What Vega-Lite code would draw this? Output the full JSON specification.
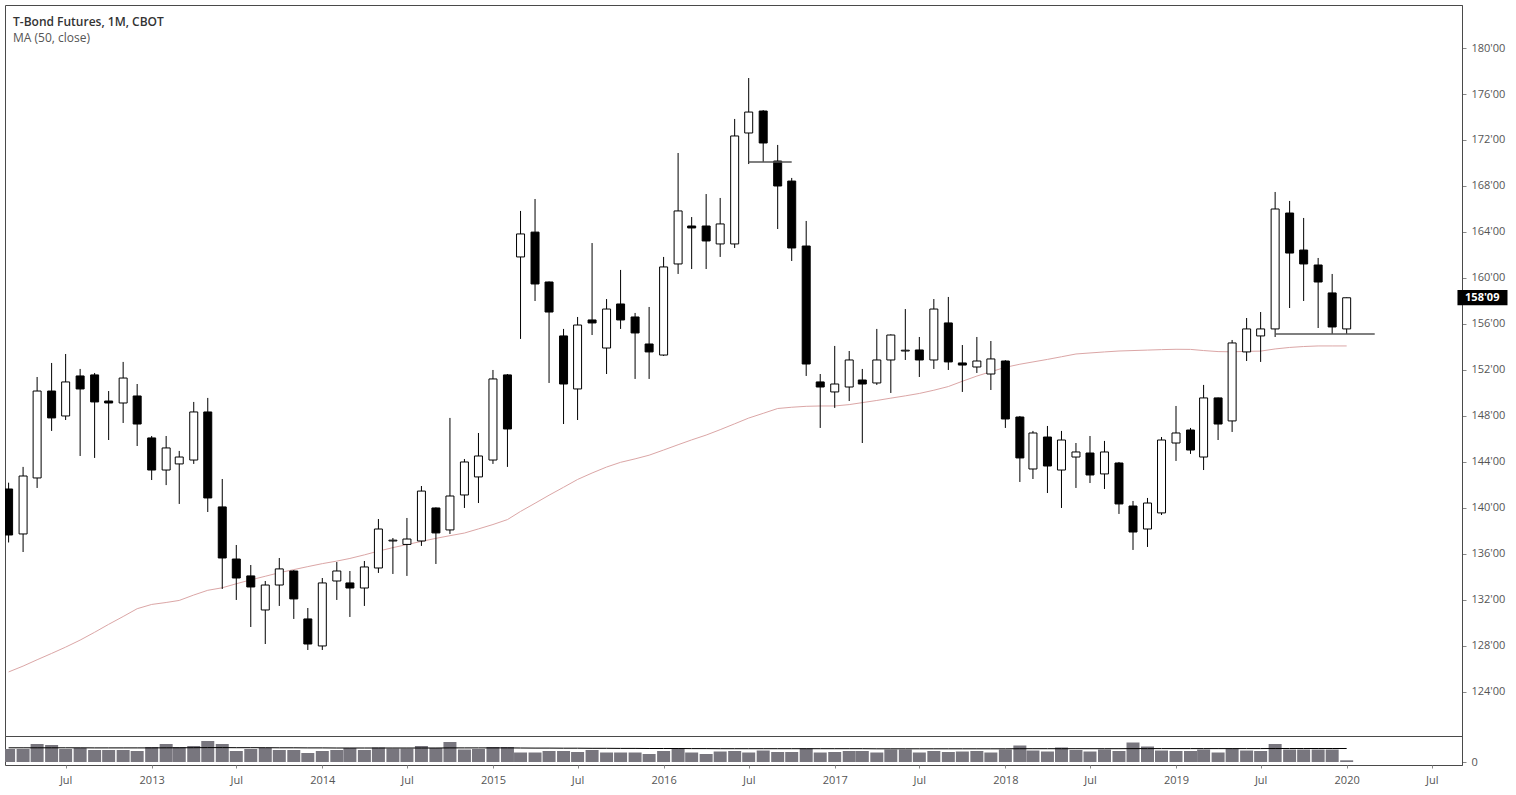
{
  "$schema": "https://vega.github.io/schema/vega-lite/v6.json",
  "padding": {"left": 4, "top": 4, "right": 0, "bottom": 0},
  "background": "white",
  "spacing": 0,
  "bounds": "flush",
  "config": {
    "view": {"stroke": "#4a4a4a", "strokeWidth": 1},
    "font": "Open Sans",
    "axis": {"labelFont": "Open Sans", "labelFontSize": 11, "labelColor": "#555555", "tickColor": "#888888", "grid": false, "domainColor": "#4a4a4a"}
  },
  "datasets": {
    "bars": [
      {"d": "2012-03-01", "o": 141.65, "h": 142.2, "l": 137.0, "c": 137.65, "v": 13, "ma": 125.74, "vma": 14.2},
      {"d": "2012-04-01", "o": 137.74, "h": 143.57, "l": 136.17, "c": 142.78, "v": 13, "ma": 126.25, "vma": 14.2},
      {"d": "2012-05-01", "o": 142.61, "h": 151.39, "l": 141.74, "c": 150.17, "v": 18, "ma": 126.8, "vma": 14.2},
      {"d": "2012-06-01", "o": 150.17, "h": 152.61, "l": 146.7, "c": 147.83, "v": 17, "ma": 127.35, "vma": 14.2},
      {"d": "2012-07-01", "o": 148.0, "h": 153.39, "l": 147.65, "c": 150.96, "v": 13, "ma": 127.9, "vma": 14.2},
      {"d": "2012-08-01", "o": 151.48, "h": 152.09, "l": 144.52, "c": 150.35, "v": 14, "ma": 128.51, "vma": 14.2},
      {"d": "2012-09-01", "o": 151.57, "h": 151.74, "l": 144.35, "c": 149.22, "v": 12, "ma": 129.19, "vma": 14.1},
      {"d": "2012-10-01", "o": 149.3, "h": 150.17, "l": 145.91, "c": 149.13, "v": 12, "ma": 129.88, "vma": 14.1},
      {"d": "2012-11-01", "o": 149.13, "h": 152.7, "l": 147.39, "c": 151.3, "v": 12, "ma": 130.56, "vma": 14.1},
      {"d": "2012-12-01", "o": 149.74, "h": 150.78, "l": 145.39, "c": 147.3, "v": 11, "ma": 131.24, "vma": 14.1},
      {"d": "2013-01-01", "o": 146.09, "h": 146.26, "l": 142.43, "c": 143.3, "v": 15, "ma": 131.61, "vma": 14.1},
      {"d": "2013-02-01", "o": 143.3, "h": 146.26, "l": 141.99, "c": 145.22, "v": 18, "ma": 131.78, "vma": 14.2},
      {"d": "2013-03-01", "o": 143.83, "h": 144.96, "l": 140.35, "c": 144.43, "v": 15, "ma": 131.96, "vma": 14.2},
      {"d": "2013-04-01", "o": 144.17, "h": 149.22, "l": 143.83, "c": 148.35, "v": 16, "ma": 132.43, "vma": 14.3},
      {"d": "2013-05-01", "o": 148.35, "h": 149.57, "l": 139.65, "c": 140.87, "v": 21, "ma": 132.84, "vma": 14.4},
      {"d": "2013-06-01", "o": 140.09, "h": 142.52, "l": 132.96, "c": 135.65, "v": 18, "ma": 133.06, "vma": 14.4},
      {"d": "2013-07-01", "o": 135.56, "h": 136.78, "l": 132.0, "c": 133.91, "v": 11, "ma": 133.41, "vma": 14.3},
      {"d": "2013-08-01", "o": 134.09, "h": 135.04, "l": 129.65, "c": 133.13, "v": 13, "ma": 133.75, "vma": 14.3},
      {"d": "2013-09-01", "o": 131.13, "h": 133.65, "l": 128.17, "c": 133.3, "v": 14, "ma": 134.06, "vma": 14.3},
      {"d": "2013-10-01", "o": 133.3, "h": 135.65, "l": 131.48, "c": 134.7, "v": 12, "ma": 134.37, "vma": 14.2},
      {"d": "2013-11-01", "o": 134.52, "h": 134.6, "l": 130.35, "c": 132.09, "v": 12, "ma": 134.64, "vma": 14.2},
      {"d": "2013-12-01", "o": 130.35, "h": 131.3, "l": 127.65, "c": 128.17, "v": 9, "ma": 134.9, "vma": 14.1},
      {"d": "2014-01-01", "o": 128.0, "h": 133.91, "l": 127.65, "c": 133.48, "v": 11, "ma": 135.16, "vma": 14.1},
      {"d": "2014-02-01", "o": 133.65, "h": 135.3, "l": 132.0, "c": 134.52, "v": 12, "ma": 135.38, "vma": 14.0},
      {"d": "2014-03-01", "o": 133.48, "h": 134.52, "l": 130.52, "c": 133.04, "v": 14, "ma": 135.61, "vma": 14.0},
      {"d": "2014-04-01", "o": 133.04, "h": 135.39, "l": 131.48, "c": 134.87, "v": 12, "ma": 135.92, "vma": 14.0},
      {"d": "2014-05-01", "o": 134.78, "h": 139.04, "l": 134.35, "c": 138.17, "v": 14.5, "ma": 136.25, "vma": 14.0},
      {"d": "2014-06-01", "o": 137.13, "h": 137.39, "l": 134.26, "c": 137.2, "v": 13.5, "ma": 136.55, "vma": 14.0},
      {"d": "2014-07-01", "o": 136.83, "h": 139.13, "l": 134.09, "c": 137.3, "v": 13.5, "ma": 136.82, "vma": 14.0},
      {"d": "2014-08-01", "o": 137.13, "h": 141.91, "l": 136.7, "c": 141.47, "v": 16, "ma": 137.09, "vma": 14.0},
      {"d": "2014-09-01", "o": 140.0, "h": 140.05, "l": 135.13, "c": 137.83, "v": 14, "ma": 137.36, "vma": 14.0},
      {"d": "2014-10-01", "o": 138.09, "h": 147.83, "l": 137.74, "c": 141.04, "v": 20, "ma": 137.59, "vma": 14.1},
      {"d": "2014-11-01", "o": 141.13, "h": 144.26, "l": 140.0, "c": 144.0, "v": 12.5, "ma": 137.82, "vma": 14.1},
      {"d": "2014-12-01", "o": 142.7, "h": 146.52, "l": 140.43, "c": 144.52, "v": 13, "ma": 138.18, "vma": 14.1},
      {"d": "2015-01-01", "o": 144.17, "h": 152.0, "l": 143.83, "c": 151.22, "v": 15, "ma": 138.56, "vma": 14.1},
      {"d": "2015-02-01", "o": 151.57, "h": 151.65, "l": 143.57, "c": 146.87, "v": 15, "ma": 138.99, "vma": 14.1},
      {"d": "2015-03-01", "o": 161.83, "h": 165.83, "l": 154.7, "c": 163.83, "v": 9.5, "ma": 139.7, "vma": 14.0},
      {"d": "2015-04-01", "o": 163.99, "h": 166.87, "l": 158.0, "c": 159.48, "v": 9.5, "ma": 140.41, "vma": 13.9},
      {"d": "2015-05-01", "o": 159.65, "h": 159.7, "l": 150.87, "c": 157.04, "v": 11, "ma": 141.11, "vma": 13.9},
      {"d": "2015-06-01", "o": 154.96, "h": 155.57, "l": 147.3, "c": 150.78, "v": 11, "ma": 141.8, "vma": 13.8},
      {"d": "2015-07-01", "o": 150.35, "h": 156.61, "l": 147.65, "c": 155.91, "v": 10, "ma": 142.48, "vma": 13.8},
      {"d": "2015-08-01", "o": 156.35, "h": 163.04, "l": 155.04, "c": 156.09, "v": 12, "ma": 143.04, "vma": 13.7},
      {"d": "2015-09-01", "o": 153.91, "h": 158.17, "l": 151.65, "c": 157.3, "v": 9.5, "ma": 143.56, "vma": 13.7},
      {"d": "2015-10-01", "o": 157.74, "h": 160.7, "l": 155.57, "c": 156.35, "v": 9.5, "ma": 143.97, "vma": 13.6},
      {"d": "2015-11-01", "o": 156.61, "h": 156.96, "l": 151.22, "c": 155.22, "v": 9.5, "ma": 144.27, "vma": 13.6},
      {"d": "2015-12-01", "o": 154.26, "h": 157.48, "l": 151.22, "c": 153.57, "v": 8, "ma": 144.59, "vma": 13.5},
      {"d": "2016-01-01", "o": 153.3, "h": 161.83, "l": 153.22, "c": 160.96, "v": 11, "ma": 145.04, "vma": 13.5},
      {"d": "2016-02-01", "o": 161.22, "h": 170.87, "l": 160.35, "c": 165.83, "v": 13.5, "ma": 145.5, "vma": 13.5},
      {"d": "2016-03-01", "o": 164.52, "h": 165.3, "l": 160.78, "c": 164.35, "v": 9.5, "ma": 145.92, "vma": 13.4},
      {"d": "2016-04-01", "o": 164.52, "h": 167.3, "l": 160.78, "c": 163.22, "v": 8, "ma": 146.34, "vma": 13.4},
      {"d": "2016-05-01", "o": 162.96, "h": 166.96, "l": 161.83, "c": 164.7, "v": 10.5, "ma": 146.81, "vma": 13.3},
      {"d": "2016-06-01", "o": 162.96, "h": 173.83, "l": 162.61, "c": 172.35, "v": 11, "ma": 147.32, "vma": 13.3},
      {"d": "2016-07-01", "o": 172.61, "h": 177.39, "l": 169.91, "c": 174.43, "v": 9.5, "ma": 147.82, "vma": 13.3},
      {"d": "2016-08-01", "o": 174.52, "h": 174.6, "l": 170.09, "c": 171.74, "v": 11.5, "ma": 148.23, "vma": 13.3},
      {"d": "2016-09-01", "o": 170.17, "h": 171.57, "l": 164.26, "c": 168.0, "v": 10, "ma": 148.65, "vma": 13.3},
      {"d": "2016-10-01", "o": 168.43, "h": 168.7, "l": 161.48, "c": 162.61, "v": 10, "ma": 148.76, "vma": 13.3},
      {"d": "2016-11-01", "o": 162.78, "h": 164.96, "l": 151.48, "c": 152.52, "v": 13.5, "ma": 148.84, "vma": 13.3},
      {"d": "2016-12-01", "o": 150.96, "h": 151.65, "l": 146.96, "c": 150.52, "v": 9.5, "ma": 148.87, "vma": 13.3},
      {"d": "2017-01-01", "o": 150.09, "h": 154.09, "l": 148.7, "c": 150.78, "v": 10, "ma": 148.87, "vma": 13.3},
      {"d": "2017-02-01", "o": 150.52, "h": 153.65, "l": 149.3, "c": 152.87, "v": 11, "ma": 148.99, "vma": 13.3},
      {"d": "2017-03-01", "o": 151.13, "h": 152.09, "l": 145.65, "c": 150.78, "v": 11, "ma": 149.16, "vma": 13.3},
      {"d": "2017-04-01", "o": 150.87, "h": 155.57, "l": 150.7, "c": 152.87, "v": 9.5, "ma": 149.35, "vma": 13.2},
      {"d": "2017-05-01", "o": 152.87, "h": 155.1, "l": 150.0, "c": 155.04, "v": 12.5, "ma": 149.55, "vma": 13.2},
      {"d": "2017-06-01", "o": 153.65, "h": 157.3, "l": 152.87, "c": 153.72, "v": 12.5, "ma": 149.75, "vma": 13.2},
      {"d": "2017-07-01", "o": 153.74, "h": 154.87, "l": 151.39, "c": 152.87, "v": 9.5, "ma": 149.96, "vma": 13.2},
      {"d": "2017-08-01", "o": 152.87, "h": 158.17, "l": 152.09, "c": 157.3, "v": 11, "ma": 150.24, "vma": 13.2},
      {"d": "2017-09-01", "o": 156.09, "h": 158.35, "l": 152.0, "c": 152.7, "v": 10, "ma": 150.56, "vma": 13.2},
      {"d": "2017-10-01", "o": 152.61, "h": 154.17, "l": 150.09, "c": 152.43, "v": 10.5, "ma": 151.02, "vma": 13.2},
      {"d": "2017-11-01", "o": 152.26, "h": 154.87, "l": 151.74, "c": 152.78, "v": 11, "ma": 151.47, "vma": 13.2},
      {"d": "2017-12-01", "o": 151.65, "h": 154.52, "l": 150.26, "c": 152.96, "v": 9.5, "ma": 151.85, "vma": 13.2},
      {"d": "2018-01-01", "o": 152.78, "h": 152.85, "l": 146.96, "c": 147.74, "v": 12.5, "ma": 152.23, "vma": 13.2},
      {"d": "2018-02-01", "o": 147.91, "h": 148.0, "l": 142.26, "c": 144.35, "v": 16.5, "ma": 152.5, "vma": 13.3},
      {"d": "2018-03-01", "o": 143.39, "h": 146.7, "l": 142.52, "c": 146.52, "v": 11.5, "ma": 152.7, "vma": 13.3},
      {"d": "2018-04-01", "o": 146.17, "h": 147.13, "l": 141.3, "c": 143.65, "v": 10.5, "ma": 152.92, "vma": 13.3},
      {"d": "2018-05-01", "o": 143.3, "h": 146.7, "l": 140.0, "c": 145.91, "v": 14.5, "ma": 153.15, "vma": 13.3},
      {"d": "2018-06-01", "o": 144.43, "h": 145.65, "l": 141.74, "c": 144.87, "v": 12, "ma": 153.39, "vma": 13.3},
      {"d": "2018-07-01", "o": 144.78, "h": 146.26, "l": 142.17, "c": 142.87, "v": 10.5, "ma": 153.48, "vma": 13.3},
      {"d": "2018-08-01", "o": 142.96, "h": 145.83, "l": 141.65, "c": 144.87, "v": 12.5, "ma": 153.57, "vma": 13.3},
      {"d": "2018-09-01", "o": 143.91, "h": 144.0, "l": 139.48, "c": 140.35, "v": 11, "ma": 153.65, "vma": 13.3},
      {"d": "2018-10-01", "o": 140.17, "h": 140.61, "l": 136.35, "c": 137.91, "v": 19.5, "ma": 153.69, "vma": 13.4},
      {"d": "2018-11-01", "o": 138.17, "h": 140.87, "l": 136.61, "c": 140.43, "v": 15.5, "ma": 153.73, "vma": 13.4},
      {"d": "2018-12-01", "o": 139.57, "h": 146.17, "l": 139.39, "c": 145.91, "v": 11.5, "ma": 153.77, "vma": 13.4},
      {"d": "2019-01-01", "o": 145.65, "h": 148.87, "l": 144.09, "c": 146.52, "v": 11, "ma": 153.8, "vma": 13.4},
      {"d": "2019-02-01", "o": 146.78, "h": 146.96, "l": 144.7, "c": 145.04, "v": 11, "ma": 153.79, "vma": 13.4},
      {"d": "2019-03-01", "o": 144.43, "h": 150.7, "l": 143.3, "c": 149.57, "v": 12.5, "ma": 153.69, "vma": 13.4},
      {"d": "2019-04-01", "o": 149.57, "h": 149.6, "l": 145.91, "c": 147.3, "v": 9.5, "ma": 153.6, "vma": 13.4},
      {"d": "2019-05-01", "o": 147.57, "h": 154.61, "l": 146.61, "c": 154.35, "v": 13.5, "ma": 153.58, "vma": 13.4},
      {"d": "2019-06-01", "o": 153.57, "h": 156.52, "l": 152.78, "c": 155.57, "v": 11.5, "ma": 153.62, "vma": 13.4},
      {"d": "2019-07-01", "o": 154.96, "h": 157.04, "l": 152.7, "c": 155.57, "v": 11, "ma": 153.64, "vma": 13.4},
      {"d": "2019-08-01", "o": 155.57, "h": 167.48, "l": 154.87, "c": 166.0, "v": 18, "ma": 153.83, "vma": 13.5},
      {"d": "2019-09-01", "o": 165.65, "h": 166.7, "l": 157.39, "c": 162.17, "v": 12.5, "ma": 153.96, "vma": 13.5},
      {"d": "2019-10-01", "o": 162.43, "h": 165.22, "l": 158.0, "c": 161.22, "v": 12.5, "ma": 154.04, "vma": 13.5},
      {"d": "2019-11-01", "o": 161.13, "h": 161.74, "l": 155.65, "c": 159.65, "v": 12.5, "ma": 154.09, "vma": 13.5},
      {"d": "2019-12-01", "o": 158.7, "h": 160.35, "l": 155.13, "c": 155.74, "v": 12.5, "ma": 154.09, "vma": 13.5},
      {"d": "2020-01-01", "o": 155.57, "h": 158.3, "l": 155.13, "c": 158.28, "v": 1.7, "ma": 154.09, "vma": 13.5}
    ],
    "levels": [
      {"start": "2016-07-01", "end": "2016-10-01", "price": 170.09},
      {"start": "2019-08-01", "end": "2020-03-01", "price": 155.13}
    ],
    "last": [
      {"label": "158'09", "price": 158.28}
    ]
  },
  "vconcat": [
    {
      "width": 1457,
      "height": 731,
      "title": {
        "text": "T-Bond Futures, 1M, CBOT",
        "subtitle": "MA (50, close)",
        "anchor": "start",
        "frame": "group",
        "orient": "top",
        "offset": -40,
        "dx": 8,
        "font": "Open Sans",
        "fontSize": 12,
        "fontWeight": 600,
        "color": "#333333",
        "subtitleFont": "Open Sans",
        "subtitleFontSize": 12,
        "subtitleColor": "#555555",
        "subtitlePadding": 4
      },
      "data": {"name": "bars"},
      "layer": [
        {
          "mark": {"type": "line", "color": "#dba6a6", "strokeWidth": 1, "clip": true},
          "encoding": {
            "x": {"field": "d", "type": "temporal", "scale": {"type": "utc", "domain": [{"year": 2012, "month": 3, "date": 4, "utc": true}, {"year": 2020, "month": 8, "date": 24, "utc": true}]}, "axis": null},
            "y": {"field": "ma", "type": "quantitative", "scale": {"domain": [120.17, 183.74], "nice": false, "zero": false},
              "axis": {"orient": "right", "title": null, "values": [124, 128, 132, 136, 140, 144, 148, 152, 156, 160, 164, 168, 172, 176, 180], "labelExpr": "datum.value + \"'00\"", "tickSize": 4, "labelPadding": 5, "domain": true}}
          }
        },
        {
          "mark": {"type": "rule", "color": "#000000", "strokeWidth": 1, "clip": true},
          "encoding": {
            "x": {"field": "d", "type": "temporal"},
            "y": {"field": "l", "type": "quantitative"},
            "y2": {"field": "h"}
          }
        },
        {
          "mark": {"type": "bar", "width": 8, "stroke": "#000000", "strokeWidth": 1, "clip": true},
          "encoding": {
            "x": {"field": "d", "type": "temporal"},
            "y": {"field": "o", "type": "quantitative"},
            "y2": {"field": "c"},
            "fill": {"condition": {"test": "datum.c >= datum.o", "value": "#ffffff"}, "value": "#000000"}
          }
        },
        {
          "data": {"name": "levels"},
          "mark": {"type": "rule", "color": "#555555", "strokeWidth": 1.5},
          "encoding": {
            "x": {"field": "start", "type": "temporal"},
            "x2": {"field": "end"},
            "y": {"field": "price", "type": "quantitative"}
          }
        },
        {
          "data": {"name": "last"},
          "mark": {"type": "rect", "color": "#000000", "clip": false},
          "encoding": {
            "x": {"datum": {"year": 2020, "month": 8, "date": 25, "utc": true}, "type": "temporal"},
            "x2": {"datum": {"year": 2020, "month": 12, "date": 10, "utc": true}},
            "y": {"datum": 158.95, "type": "quantitative"},
            "y2": {"datum": 157.63}
          }
        },
        {
          "data": {"name": "last"},
          "mark": {"type": "text", "color": "#ffffff", "fontWeight": "bold", "fontSize": 11, "font": "Open Sans", "align": "center", "baseline": "middle", "clip": false},
          "encoding": {
            "x": {"datum": {"year": 2020, "month": 10, "date": 17, "utc": true}, "type": "temporal"},
            "y": {"field": "price", "type": "quantitative"},
            "text": {"field": "label"}
          }
        }
      ]
    },
    {
      "width": 1457,
      "height": 29,
      "data": {"name": "bars"},
      "layer": [
        {
          "mark": {"type": "bar", "width": 13, "color": "#78767e", "clip": true},
          "encoding": {
            "x": {"field": "d", "type": "temporal", "scale": {"type": "utc", "domain": [{"year": 2012, "month": 3, "date": 4, "utc": true}, {"year": 2020, "month": 8, "date": 24, "utc": true}]},
              "axis": {"orient": "bottom", "title": null, "tickCount": {"interval": "month", "step": 6}, "labelExpr": "utcFormat(datum.value, '%m') == '01' ? utcFormat(datum.value, '%Y') : utcFormat(datum.value, '%b')", "tickSize": 3, "labelPadding": 6, "domain": false}},
            "y": {"field": "v", "type": "quantitative", "scale": {"domain": [-3, 26], "nice": false, "zero": false},
              "axis": {"orient": "right", "title": null, "values": [0], "tickSize": 4, "labelPadding": 5, "domain": true}},
            "y2": {"datum": 0}
          }
        },
        {
          "mark": {"type": "line", "color": "#000000", "strokeWidth": 1, "clip": true},
          "encoding": {
            "x": {"field": "d", "type": "temporal"},
            "y": {"field": "vma", "type": "quantitative"}
          }
        }
      ]
    }
  ]
}
